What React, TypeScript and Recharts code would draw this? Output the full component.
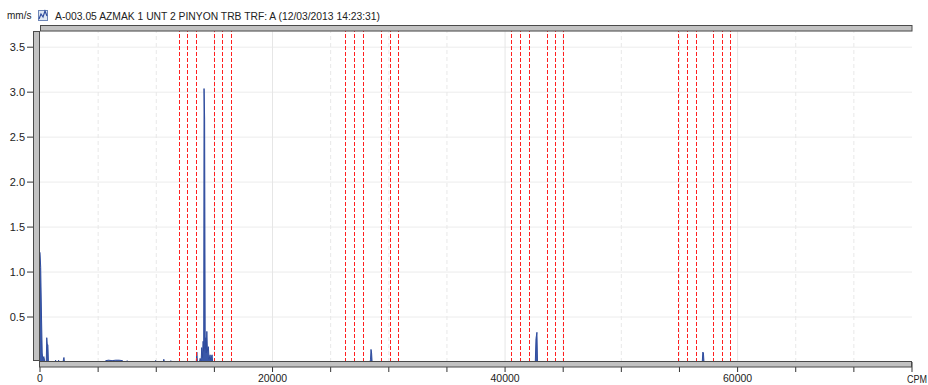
import React from 'react';
import { AreaChart, Area, XAxis, YAxis, CartesianGrid, ReferenceLine } from 'recharts';

// spectrum points (CPM, mm/s)
const cpm = [
  0, 60, 130, 190, 240, 330, 420,
  540, 580, 620, 680, 720, 800,
  1300, 1340, 1380, 1560, 1600, 1640, 1980, 2020, 2060, 2100,
  5600, 5650, 5900, 6200, 6500, 6800, 7100, 7200, 7450, 7500, 7560,
  9900, 9950, 10000, 10600, 10650, 10700, 11200, 11250, 11300,
  13440, 13490, 13540, 13720, 13770, 13860, 13910, 13970, 14030, 14080, 14110, 14160, 14210,
  14260, 14300, 14350, 14400, 14480, 14540, 14630, 14680, 14800, 14850,
  28380, 28430, 28470, 28520, 28560, 28620,
  42600, 42660, 42740, 42790,
  56960, 57010, 57060, 57110,
  75000,
];
const amp = [
  1.22, 1.05, 0.5, 0.1, 0.03, 0.06, 0,
  0, 0.27, 0.2, 0.19, 0.02, 0,
  0, 0.02, 0, 0, 0.02, 0, 0, 0.03, 0.05, 0,
  0, 0.015, 0.02, 0.015, 0.02, 0.02, 0.015, 0, 0, 0.015, 0,
  0, 0.02, 0, 0, 0.03, 0, 0, 0.015, 0,
  0, 0.11, 0, 0, 0.04, 0.01, 0.16, 0.05, 0.23, 0.12, 3.04, 2.7, 0.15,
  0.27, 0.1, 0.34, 0.12, 0.17, 0.03, 0.08, 0.02, 0.08, 0,
  0, 0.03, 0.14, 0.1, 0.01, 0,
  0, 0.26, 0.33, 0,
  0, 0.11, 0.1, 0,
  0,
];

// red sideband markers around the gear mesh harmonics
const bandLines = [
  11970, 12720, 13470, 14970, 15720, 16470,
  26290, 27070, 27820, 29370, 30110, 30860,
  40540, 41320, 42070, 43620, 44340, 45030,
  54910, 55690, 56470, 57960, 58710, 59400,
];

const xTicks = [0, 5000, 10000, 15000, 20000, 25000, 30000, 35000, 40000, 45000, 50000, 55000, 60000, 65000, 70000, 75000];
const xLabels = [0, 20000, 40000, 60000];
const yTicks = [0.5, 1.0, 1.5, 2.0, 2.5, 3.0, 3.5];

const title = 'A-003.05  AZMAK 1 UNT 2 PINYON TRB TRF: A (12/03/2013 14:23:31)';

const data = cpm.map((c, i) => ({ cpm: c, amp: amp[i] }));

const font = '"Liberation Sans", Arial, sans-serif';
const barFill = '#c2c2c2';
const barEdge = '#4a4a4a';

const App: React.FC = () => {
  return (
    <div style={{ position: 'absolute', left: 0, top: 0, width: 928, height: 385, background: '#fff', fontFamily: font }}>
      <AreaChart
        width={928}
        height={385}
        data={data}
        margin={{ top: 31, right: 16, bottom: 0, left: 0 }}
      >
        <CartesianGrid vertical={false} stroke="#ececec" />
        {xTicks.slice(1, -1).map((v) => (
          <ReferenceLine
            key={'g' + v}
            x={v}
            stroke={xLabels.includes(v) ? '#e6e6e6' : '#e8e8e8'}
            strokeDasharray={xLabels.includes(v) ? undefined : '4 3'}
          />
        ))}
        <XAxis
          type="number"
          dataKey="cpm"
          domain={[0, 75000]}
          ticks={xTicks}
          interval={0}
          tickFormatter={(v) => (xLabels.includes(v) ? String(v) : '')}
          axisLine={false}
          tickLine={{ stroke: '#333' }}
          tickSize={10}
          tickMargin={3}
          height={23}
          tick={{ fontSize: 10.5, fill: '#222', fontFamily: font }}
        />
        <YAxis
          type="number"
          domain={[0, 3.68]}
          allowDataOverflow
          ticks={yTicks}
          interval={0}
          tickFormatter={(v) => v.toFixed(1)}
          axisLine={false}
          tickLine={{ stroke: '#333' }}
          tickSize={13}
          tickMargin={2}
          width={40}
          tick={{ fontSize: 11, fill: '#222', fontFamily: font }}
        />
        {bandLines.map((v) => (
          <ReferenceLine
            key={'b' + v}
            x={v}
            stroke="#ff2020"
            strokeDasharray="4 2"
            shapeRendering="crispEdges"
          />
        ))}
        <Area
          type="linear"
          dataKey="amp"
          stroke="#2f4c9e"
          strokeWidth={1}
          fill="#3a58a8"
          fillOpacity={1}
          isAnimationActive={false}
          dot={false}
          activeDot={false}
        />
      </AreaChart>
      <svg
        width={928}
        height={385}
        style={{ position: 'absolute', left: 0, top: 0, pointerEvents: 'none' }}
      >
        <text x={7} y={19} fontSize={10} fill="#222" fontFamily={font}>mm/s</text>
        <g>
          <rect x={38.5} y={10.5} width={9} height={10} fill="#dfe8f4" stroke="#6d86b8" />
          <polyline points="39,19 41,14 43,17 45,11 47,16" fill="none" stroke="#2f4c9e" strokeWidth={1.2} />
        </g>
        <text x={55} y={19.5} fontSize={10} fill="#222" fontFamily={font} textLength={325} lengthAdjust="spacingAndGlyphs">
          {title}
        </text>
        <rect x={40.5} y={25.5} width={871.5} height={5.5} fill={barFill} stroke={barEdge} />
        <rect x={33.5} y={31.5} width={6} height={329} fill={barFill} stroke={barEdge} />
        <rect x={39.5} y={361.5} width={872} height={5.5} fill={barFill} stroke={barEdge} />
        <text x={907} y={383} fontSize={10} fill="#222" fontFamily={font} textLength={20} lengthAdjust="spacingAndGlyphs">CPM</text>
      </svg>
    </div>
  );
};

export default App;
